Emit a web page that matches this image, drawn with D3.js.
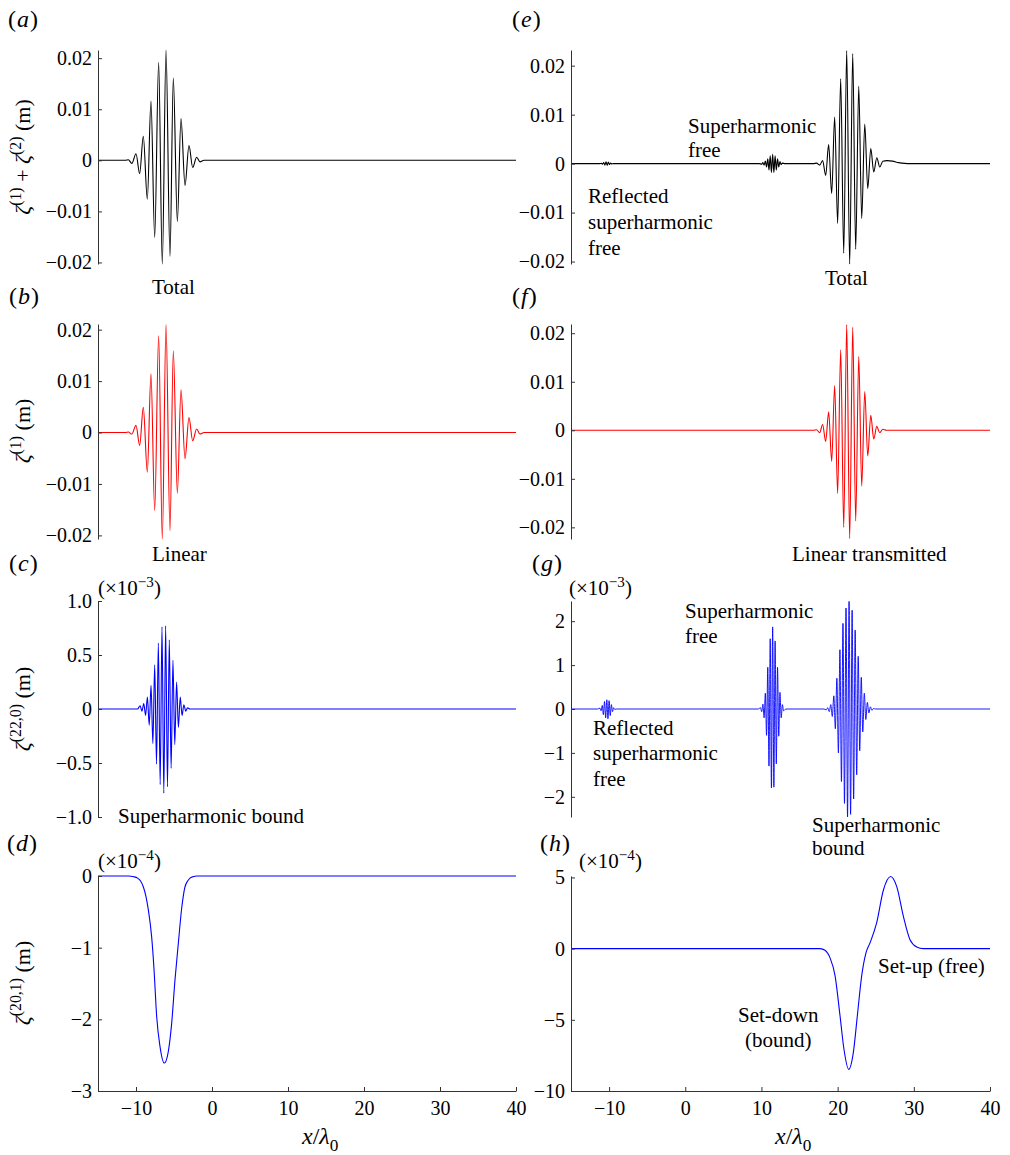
<!DOCTYPE html>
<html><head><meta charset="utf-8">
<script src="https://cdn.jsdelivr.net/npm/d3@7"></script>
<style>
body{margin:0;background:#fff}
</style></head>
<body><svg id="chart" width="1010" height="1155"></svg>
<script>
// ---------------- data ----------------
const xDomain = [-15, 40];
const xTicks = [-10, 0, 10, 20, 30, 40];

// (a) total, incident (m)
const aX = [-15,-11.4,-11.0,-10.55,-10.0,-9.52,-9.04,-8.51,-8.03,-7.54,-7.02,-6.54,-6.05,-5.53,-5.09,-4.56,-4.08,-3.55,-3.03,-2.54,-2.02,-1.58,-1.05,40];
const aY = [0,0,0.0001,-0.0006,0.0013,-0.0026,0.0047,-0.0076,0.0116,-0.0151,0.0192,-0.0203,0.0216,-0.0188,0.0161,-0.0120,0.0082,-0.0049,0.0029,-0.0014,0.0006,-0.0003,0,0];
const aYDomain = [-0.0203, 0.0216];
const aYTicks = [-0.02, -0.01, 0, 0.01, 0.02];

// (b) linear, incident (m)
const bX = [-15,-11.4,-11.0,-10.55,-10.0,-9.52,-9.04,-8.51,-8.03,-7.54,-7.02,-6.54,-6.05,-5.53,-5.09,-4.56,-4.08,-3.55,-3.03,-2.54,-2.02,-1.58,-1.05,40];
const bY = [0,0,0.0001,-0.0003,0.0014,-0.0025,0.0049,-0.0077,0.0114,-0.0152,0.0188,-0.0207,0.0210,-0.0191,0.0159,-0.0118,0.0083,-0.0051,0.0029,-0.0016,0.0007,-0.0003,0,0];
const bYDomain = [-0.0207, 0.0211];
const bYTicks = [-0.02, -0.01, 0, 0.01, 0.02];

// (c) superharmonic bound, incident (x1e-3 m)
const cX = [-15,-9.8,-9.46,-9.22,-8.98,-8.74,-8.50,-8.26,-8.02,-7.78,-7.54,-7.30,-7.06,-6.82,-6.58,-6.34,-6.10,-5.86,-5.62,-5.38,-5.14,-4.90,-4.66,-4.42,-4.18,-3.94,-3.70,-3.46,-3.22,-2.9,40];
const cY = [0,0,0.03,-0.02,0.05,-0.06,0.11,-0.15,0.22,-0.32,0.41,-0.51,0.61,-0.70,0.76,-0.78,0.77,-0.72,0.64,-0.55,0.45,-0.33,0.25,-0.17,0.11,-0.06,0.04,-0.02,0.01,0,0];
const cYDomain = [-1, 1];
const cYTicks = [-1, -0.5, 0, 0.5, 1];

// (d) set-down, incident (x1e-4 m)
const dX = [-15,-11,-10.3,-9.8,-9.4,-9.04,-8.7,-8.38,-7.94,-7.63,-7.28,-6.84,-6.27,-5.75,-5.31,-4.87,-4.43,-3.99,-3.55,-3.2,-2.89,-2.5,-2.0,40];
const dY = [0,0,-0.01,-0.03,-0.07,-0.15,-0.28,-0.47,-0.85,-1.3,-1.96,-2.38,-2.61,-2.45,-2.06,-1.45,-0.94,-0.45,-0.15,-0.07,-0.03,-0.01,0,0];
const dYDomain = [-3, 0];
const dYTicks = [-3, -2, -1, 0];

// (e) total, after the step (m)
const eX = [-15,-11.2,-11.0,-10.85,-10.7,-10.55,-10.4,-10.25,-10.1,-9.95,-9.8,-9.65,-9.45,
  9.7,10.03,10.19,10.35,10.51,10.67,10.83,10.99,11.15,11.31,11.47,11.63,11.79,11.95,12.11,12.27,12.43,12.59,12.75,13.1,
  16.8,17.24,17.64,18.03,18.43,18.82,19.22,19.61,20.0,20.4,20.8,21.19,21.58,21.98,22.37,22.77,23.16,23.56,23.95,24.35,24.74,25.14,25.53,25.93,26.5,27.2,28.0,28.8,29.6,40];
const eY = [0,0,0.00005,-0.0001,0.0002,-0.0003,0.00035,-0.00035,0.0003,-0.0002,0.0001,-0.00005,0,
  0,-0.0001,0.0002,-0.0003,0.0005,-0.0007,0.001,-0.0013,0.0016,-0.0018,0.0019,-0.0018,0.0016,-0.0013,0.001,-0.0007,0.0004,-0.0002,0.0001,0,
  0,0.0001,-0.0003,0.0006,-0.0024,0.0039,-0.0061,0.0095,-0.0122,0.0173,-0.0183,0.0231,-0.0205,0.0225,-0.0175,0.0158,-0.0112,0.0081,-0.0051,0.0031,-0.0017,0.0012,-0.0007,0.0005,0.0006,0.0005,0.0002,0.00004,0,0];
const eYDomain = [-0.0205, 0.0232];
const eYTicks = [-0.02, -0.01, 0, 0.01, 0.02];

// (f) linear transmitted (m)
const fX = [-15,16.8,17.24,17.64,18.03,18.43,18.82,19.22,19.61,20.0,20.4,20.8,21.19,21.58,21.98,22.37,22.77,23.16,23.56,23.95,24.35,24.74,25.14,25.53,25.93,26.4,40];
const fY = [0,0,0.0001,-0.0005,0.0012,-0.0023,0.0038,-0.0064,0.0092,-0.013,0.0166,-0.020,0.0218,-0.0223,0.0212,-0.0187,0.0152,-0.0115,0.008,-0.0053,0.0031,-0.0018,0.0008,-0.0005,0.0002,0,0];
const fYDomain = [-0.0224, 0.0219];
const fYTicks = [-0.02, -0.01, 0, 0.01, 0.02];

// (g) superharmonics after the step (x1e-3 m)
const gX = [-15,-11.5,-11.2,-11.05,-10.9,-10.75,-10.6,-10.45,-10.3,-10.15,-10.0,-9.85,-9.7,-9.55,-9.4,-9.25,-9.0,
  9.6,9.87,10.03,10.19,10.35,10.51,10.67,10.83,10.99,11.15,11.31,11.47,11.63,11.79,11.95,12.11,12.27,12.43,12.59,12.75,12.91,13.2,
  18.2,18.5,18.7,18.9,19.1,19.3,19.5,19.7,19.9,20.1,20.3,20.5,20.7,20.9,21.1,21.3,21.5,21.7,21.9,22.1,22.3,22.5,22.7,22.9,23.1,23.3,23.5,23.7,23.9,24.1,24.3,24.5,24.7,25.0,40];
const gY = [0,0,0.02,-0.04,0.08,-0.13,0.17,-0.2,0.21,-0.22,0.19,-0.15,0.1,-0.06,0.03,-0.01,0,
  0,0.03,-0.06,0.11,-0.2,0.36,-0.6,0.95,-1.3,1.6,-1.8,1.87,-1.78,1.55,-1.25,0.95,-0.62,0.38,-0.2,0.1,-0.04,0,
  0,-0.02,0.03,-0.06,0.1,-0.17,0.3,-0.45,0.7,-1.0,1.35,-1.65,1.95,-2.15,2.3,-2.46,2.45,-2.4,2.25,-2.05,1.8,-1.5,1.2,-0.95,0.72,-0.52,0.36,-0.24,0.15,-0.09,0.05,-0.03,0.01,0,0];
const gYDomain = [-2.46, 2.46];
const gYTicks = [-2, -1, 0, 1, 2];

// (h) set-down / set-up after the step (x1e-4 m)
const hX = [-15,17.69,18.34,19.0,19.66,20.31,20.84,21.45,22.06,22.59,23.16,23.72,24.25,25.12,26.0,26.96,27.75,28.63,29.5,30.38,31.25,40];
const hY = [0,0,-0.12,-0.65,-1.9,-4.7,-7.1,-8.48,-7.3,-4.7,-1.9,-0.3,0.4,1.8,4.1,5.07,4.37,2.27,0.63,0.12,0,0];
const hYDomain = [-10, 5.1];
const hYTicks = [-10, -5, 0, 5];

// ---------------- layout ----------------
const svg = d3.select("#chart");
const colL = [98, 516], colR = [571, 990];
const rows = [[50, 264], [324, 539], [601, 817], [876, 1091]];
const FS = 20;   // tick labels
const AS = 21;   // annotations

function rich(t, parts, size) {
  let shift = 0;
  parts.forEach(p => {
    const ts = t.append("tspan").text(p.t);
    const target = p.sup ? -size * 0.4 : (p.sub ? size * 0.28 : 0);
    ts.attr("dy", target - shift);
    shift = target;
    if (p.sup || p.sub) ts.attr("font-size", size * 0.72);
    if (p.it) ts.attr("font-style", "italic");
  });
  return t;
}

const fmt2 = v => v === 0 ? "0" : d3.format(".2f")(v);
const fmt1 = v => v === 0 ? "0" : d3.format(".1f")(v);
const fmt0 = v => d3.format("d")(v);

const panels = [
  {xs: aX, ys: aY, dom: aYDomain, ticks: aYTicks, col: colL, row: rows[0], color: "#000", fmt: fmt2},
  {xs: bX, ys: bY, dom: bYDomain, ticks: bYTicks, col: colL, row: rows[1], color: "#ff0000", fmt: fmt2},
  {xs: cX, ys: cY, dom: cYDomain, ticks: cYTicks, col: colL, row: rows[2], color: "#0000ff", fmt: fmt1},
  {xs: dX, ys: dY, dom: dYDomain, ticks: dYTicks, col: colL, row: rows[3], color: "#0000ff", fmt: fmt0, xaxis: true},
  {xs: eX, ys: eY, dom: eYDomain, ticks: eYTicks, col: colR, row: rows[0], color: "#000", fmt: fmt2},
  {xs: fX, ys: fY, dom: fYDomain, ticks: fYTicks, col: colR, row: rows[1], color: "#ff0000", fmt: fmt2},
  {xs: gX, ys: gY, dom: gYDomain, ticks: gYTicks, col: colR, row: rows[2], color: "#0000ff", fmt: fmt0, thin: true},
  {xs: hX, ys: hY, dom: hYDomain, ticks: hYTicks, col: colR, row: rows[3], color: "#0000ff", fmt: fmt0, xaxis: true}
];

panels.forEach(p => {
  const x = d3.scaleLinear().domain(xDomain).range(p.col);
  const y = d3.scaleLinear().domain(p.dom).range([p.row[1], p.row[0]]);
  const g = svg.append("g");
  const line = d3.line().x(d => x(d[0])).y(d => y(d[1])).curve(d3.curveMonotoneX);
  g.append("path").datum(p.xs.map((v, i) => [v, p.ys[i]]))
    .attr("d", line).attr("fill", "none").attr("stroke", p.color)
    .attr("stroke-width", p.thin ? 0.9 : 1.1).attr("stroke-linejoin", "round");
  const ya = g.append("g").attr("transform", `translate(${p.col[0]},0)`)
    .call(d3.axisLeft(y).tickValues(p.ticks).tickSizeInner(-4).tickSizeOuter(0).tickPadding(6).tickFormat(p.fmt));
  ya.attr("font-family", null).attr("font-size", null);
  ya.select(".domain").attr("stroke", "#333");
  ya.selectAll(".tick line").attr("stroke", "#333");
  ya.selectAll("text").attr("font-size", FS);
  if (p.xaxis) {
    const xa = g.append("g").attr("transform", `translate(0,${p.row[1]})`)
      .call(d3.axisBottom(x).tickValues(xTicks).tickSizeInner(-4).tickSizeOuter(0).tickPadding(10).tickFormat(fmt0));
    xa.attr("font-family", null).attr("font-size", null);
    xa.select(".domain").attr("stroke", "#333");
    xa.selectAll(".tick line").attr("stroke", "#333");
    xa.selectAll("text").attr("font-size", FS);
    rich(svg.append("text").attr("x", p.col[0] + 204).attr("y", 1144).attr("font-size", 24),
      [{t: "x", it: true}, {t: "/"}, {t: "λ", it: true}, {t: "0", sub: true}], 24);
  }
});

// panel letters
[["a", 8, 27], ["b", 9, 304], ["c", 9, 571], ["d", 7, 851],
 ["e", 512, 27], ["f", 512, 304], ["g", 532, 571], ["h", 540, 851]].forEach(([l, x, y]) => {
  rich(svg.append("text").attr("x", x).attr("y", y).attr("font-size", 24).attr("letter-spacing", 1),
    [{t: "("}, {t: l, it: true}, {t: ")"}], 24);
});

// y labels
const YL = 22;
function ylabel(cy, parts) {
  const t = svg.append("text").attr("transform", `translate(30,${cy}) rotate(-90)`)
    .attr("text-anchor", "middle").attr("font-size", YL);
  rich(t, parts, YL);
}
ylabel(157, [{t: "ζ", it: true}, {t: "(1)", sup: true}, {t: " + "}, {t: "ζ", it: true}, {t: "(2)", sup: true}, {t: " (m)"}]);
ylabel(431, [{t: "ζ", it: true}, {t: "(1)", sup: true}, {t: " (m)"}]);
ylabel(709, [{t: "ζ", it: true}, {t: "(22,0)", sup: true}, {t: " (m)"}]);
ylabel(983, [{t: "ζ", it: true}, {t: "(20,1)", sup: true}, {t: " (m)"}]);

// exponent labels
[["−3", 98, 595], ["−3", 569, 595], ["−4", 98, 868], ["−4", 579, 868]].forEach(([e, x, y]) => {
  rich(svg.append("text").attr("x", x).attr("y", y).attr("font-size", 21),
    [{t: "(×10"}, {t: e, sup: true}, {t: ")"}], 21);
});

// annotations
const notes = [
  ["Total", 152, 294], ["Linear", 152, 561], ["Superharmonic bound", 118, 823],
  ["Superharmonic", 688, 133], ["free", 688, 157],
  ["Reflected", 588, 203], ["superharmonic", 588, 229], ["free", 588, 255],
  ["Total", 825, 285], ["Linear transmitted", 792, 561],
  ["Superharmonic", 685, 618], ["free", 685, 643],
  ["Reflected", 593, 735], ["superharmonic", 593, 760], ["free", 593, 786],
  ["Superharmonic", 812, 832], ["bound", 812, 855],
  ["Set-down", 738, 1022], ["(bound)", 745, 1047], ["Set-up (free)", 878, 973]
];
notes.forEach(([s, x, y]) => svg.append("text").attr("x", x).attr("y", y).attr("font-size", AS).text(s));

// serif font on every text element
svg.selectAll("text").attr("font-family", "Liberation Serif")
  .attr("style", "font-family:'Liberation Serif'").attr("fill", "#000");
</script></body></html>
